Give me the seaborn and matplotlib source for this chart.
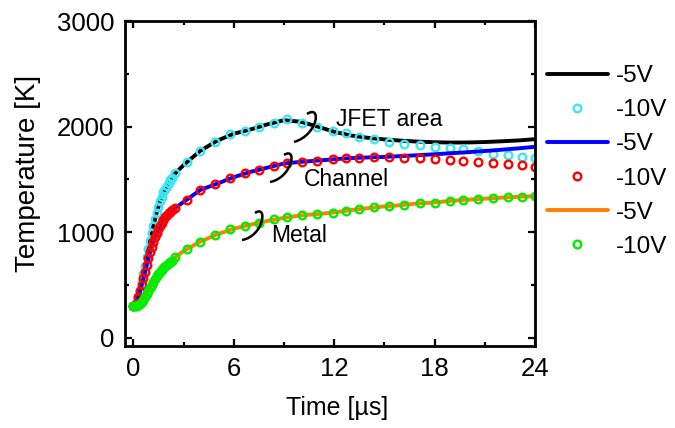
import matplotlib
matplotlib.use("Agg")
import matplotlib.pyplot as plt
from matplotlib.path import Path
from matplotlib.patches import PathPatch
import seaborn as sns
import pandas as pd

# ---------------- data ----------------
t_mk = [0.0, 0.1, 0.2, 0.3, 0.4, 0.5, 0.6, 0.7, 0.8, 0.9, 1.0, 1.1, 1.2, 1.3, 1.4,
        1.5, 1.6, 1.7, 1.8, 1.9, 2.0, 2.1, 2.2, 2.3, 2.5, 3.2, 4.0, 4.9, 5.8, 6.7,
        7.5, 8.4, 9.2, 10.1, 11.0, 11.9, 12.7, 13.5, 14.4, 15.3, 16.2, 17.1, 18.0,
        18.9, 19.7, 20.6, 21.5, 22.4, 23.2, 24.0]

jfet_10v = [300, 310, 340, 390, 455, 525, 600, 680, 760, 840, 915, 990, 1060, 1125, 1185,
            1240, 1290, 1335, 1375, 1410, 1440, 1468, 1492, 1513, 1555, 1660, 1772, 1857, 1927, 1958,
            1999, 2037, 2069, 2037, 1999, 1958, 1936, 1899, 1880, 1857, 1835, 1826, 1809,
            1800, 1785, 1769, 1740, 1731, 1715, 1700]

chan_10v = [300, 305, 330, 380, 440, 500, 560, 620, 690, 750, 810, 860, 910, 955, 995,
            1030, 1060, 1090, 1115, 1140, 1160, 1178, 1193, 1207, 1228, 1304, 1399, 1453, 1510, 1557,
            1589, 1629, 1658, 1667, 1677, 1690, 1700, 1705, 1709, 1709, 1700, 1700, 1690,
            1683, 1674, 1667, 1658, 1645, 1636, 1620]

metal_10v = [300, 300, 302, 308, 318, 335, 355, 380, 410, 440, 470, 500, 530, 555, 580,
             600, 620, 640, 658, 675, 690, 705, 718, 730, 760, 840, 909, 972, 1026, 1058,
             1089, 1121, 1140, 1162, 1169, 1184, 1203, 1216, 1235, 1247, 1257, 1273, 1279,
             1295, 1304, 1311, 1320, 1330, 1336, 1340]

t_line = [0.0, 0.2, 0.4, 0.6, 0.8, 1.0, 1.2, 1.4, 1.6, 1.8, 2.0, 2.5, 3.0, 4.0, 5.0, 6.0,
          7.0, 8.0, 9.0, 10.0, 11.0, 12.0, 13.0, 14.0, 15.0, 16.0, 17.0, 18.0, 19.0, 20.0,
          21.0, 22.0, 23.0, 24.0]

jfet_5v = [300, 335, 450, 600, 760, 915, 1060, 1185, 1290, 1375, 1440, 1555, 1635, 1770, 1865, 1932,
           1972, 2020, 2060, 2045, 2000, 1950, 1915, 1893, 1878, 1866, 1857, 1851, 1848, 1849,
           1853, 1860, 1868, 1880]

chan_5v = [300, 330, 440, 560, 690, 810, 910, 995, 1060, 1115, 1160, 1228, 1285, 1399, 1458, 1520,
           1570, 1610, 1650, 1665, 1677, 1690, 1701, 1707, 1712, 1720, 1728, 1737, 1747, 1757,
           1768, 1780, 1793, 1808]

metal_5v = [300, 302, 318, 355, 410, 470, 530, 580, 620, 658, 690, 760, 820, 909, 978, 1032,
            1070, 1105, 1135, 1158, 1170, 1186, 1208, 1226, 1243, 1255, 1271, 1280, 1296, 1307,
            1316, 1326, 1334, 1340]

legend_labels = ["-5V", "-10V", "-5V", "-10V", "-5V", "-10V"]
x_ticks = [0, 6, 12, 18, 24]
y_ticks = [0, 1000, 2000, 3000]

# ---------------- style ----------------
sns.set_style("ticks")
plt.rcParams["font.family"] = ["Liberation Sans", "DejaVu Sans"]
for k in ["text.color", "axes.labelcolor", "xtick.color", "ytick.color",
          "xtick.labelcolor", "ytick.labelcolor", "axes.edgecolor"]:
    plt.rcParams[k] = "black"

W, H = 675, 428
fig = plt.figure(figsize=(6.75, 4.28), dpi=100)
ax = fig.add_axes([125 / W, 1 - 346 / H, (535 - 125) / W, (346 - 21) / H])

lines_df = pd.DataFrame({"t": t_line, "jfet": jfet_5v, "chan": chan_5v, "metal": metal_5v})
mk_df = pd.DataFrame({"t": t_mk, "jfet": jfet_10v, "chan": chan_10v, "metal": metal_10v})

series = [
    ("jfet", "black", "#3fe6f2"),
    ("chan", "#0000ff", "#ff0000"),
    ("metal", "#ff8000", "#00ee00"),
]
lw = 2.8
ms = 5.5
mew = 1.7
idx = 0
for key, lc, mc in series:
    sns.lineplot(data=lines_df, x="t", y=key, color=lc, lw=lw, ax=ax,
                 label=legend_labels[idx], sort=False, estimator=None)
    idx += 1
    sns.lineplot(data=mk_df, x="t", y=key, ax=ax, label=legend_labels[idx],
                 sort=False, estimator=None, linestyle="none", marker="o",
                 markersize=ms, markerfacecolor="none", markeredgecolor=mc,
                 markeredgewidth=mew, color=mc)
    idx += 1

ax.set_xlim(-0.5, 24)
ax.set_ylim(-80, 3000)
ax.set_xticks(x_ticks)
ax.set_yticks(y_ticks)
ax.set_xticks([3, 9, 15, 21], minor=True)
ax.set_yticks([500, 1500, 2500], minor=True)
ax.tick_params(which="both", direction="in", top=True, right=True,
               labelsize=18.5, width=1.6, color="black")
ax.tick_params(axis="x", which="both", pad=8)
ax.tick_params(axis="y", which="both", pad=7.5)
ax.tick_params(which="major", length=5)
ax.tick_params(which="minor", length=3)
for s in ax.spines.values():
    s.set_linewidth(2.0)
    s.set_color("black")
ax.set_xlabel("Time [µs]", fontsize=18)
ax.set_ylabel("Temperature [K]", fontsize=20)
ax.xaxis.set_label_coords((337.5 - 125) / 410, (346 - 396) / 325)
ax.yaxis.set_label_coords((41 - 125) / 410, (346 - 173) / 325)

handles, labels = ax.get_legend_handles_labels()
ax.legend(handles, labels, loc="upper left", bbox_to_anchor=(547 / W, 1 - 65 / H),
          bbox_transform=fig.transFigure, frameon=False, fontsize=17.5,
          handlelength=2.5, handletextpad=0.33, labelspacing=0.5,
          borderpad=0, borderaxespad=0)

# ---------------- annotations (figure pixel positions) ----------------
def fpt(px, py):
    return (px / W, 1 - py / H)

brackets = [
    [(307, 114), (322, 104), (318, 135), (294, 142)],
    [(284, 155), (298, 146), (292, 178), (270, 182)],
    [(255, 213), (268, 204), (264, 236), (242, 240)],
]
for pts in brackets:
    verts = [fpt(*p) for p in pts]
    path = Path(verts, [Path.MOVETO, Path.CURVE4, Path.CURVE4, Path.CURVE4])
    fig.patches.append(PathPatch(path, transform=fig.transFigure, fill=False,
                                 lw=1.8, edgecolor="black", zorder=5))

texts = [("JFET area", 336, 119), ("Channel", 304, 180), ("Metal", 271, 236)]
for s, px, py in texts:
    fig.text(*fpt(px, py), s, fontsize=16.5, ha="left", va="center")

fig.savefig("out.png", dpi=100)
